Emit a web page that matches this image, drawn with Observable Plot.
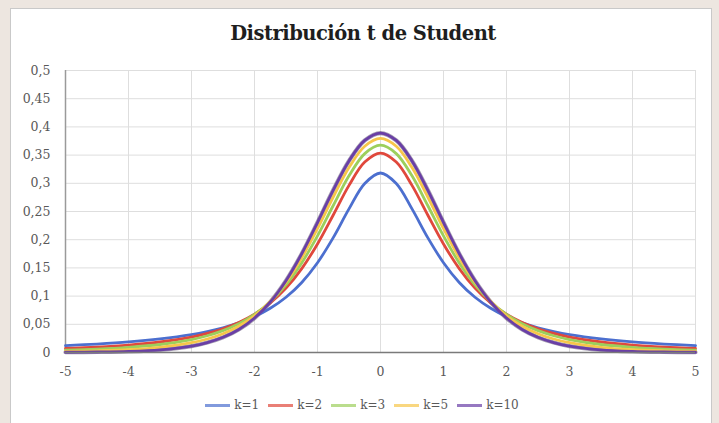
<!DOCTYPE html>
<html>
<head>
<meta charset="utf-8">
<script src="https://cdn.jsdelivr.net/npm/d3@7"></script>
<script src="https://cdn.jsdelivr.net/npm/@observablehq/plot@0.6"></script>
<style>
  html, body { margin: 0; padding: 0; }
  body { width: 719px; height: 423px; background: #ede6e0; position: relative; overflow: hidden; font-family: "DejaVu Serif", serif; }
  #panel { position: absolute; left: 10px; top: 8px; width: 702px; height: 430px; background: #ffffff; border: 1px solid #c9c9c9; box-sizing: border-box; }
  #title { position: absolute; left: 0; width: 726px; top: 24px; line-height: 20px; text-align: center; font-weight: bold; font-size: 19.5px; color: #1e1e1e; letter-spacing: -0.5px; }
  #chart { position: absolute; left: 0; top: 0; }
  #legend { position: absolute; left: 0; width: 724px; top: 397px; height: 16px; display: flex; justify-content: center; align-items: center; gap: 9px; font-size: 12px; color: #595959; }
  .item { display: flex; align-items: center; gap: 4px; }
  .sw { width: 25px; height: 3px; opacity: 0.7; }
</style>
</head>
<body>
<div id="panel"></div>
<div id="title">Distribución t de Student</div>
<div id="chart"></div>
<div id="legend"></div>
<script>
const xs  = [-5,-4.5,-4,-3.5,-3,-2.75,-2.5,-2.25,-2,-1.75,-1.5,-1.25,-1,-0.75,-0.5,-0.25,0,0.25,0.5,0.75,1,1.25,1.5,1.75,2,2.25,2.5,2.75,3,3.5,4,4.5,5];
const k1  = [0.0122,0.0150,0.0187,0.0241,0.0318,0.0372,0.0439,0.0525,0.0637,0.0784,0.0979,0.1242,0.1592,0.2037,0.2546,0.2996,0.3183,0.2996,0.2546,0.2037,0.1592,0.1242,0.0979,0.0784,0.0637,0.0525,0.0439,0.0372,0.0318,0.0241,0.0187,0.0150,0.0122];
const k2  = [0.0071,0.0095,0.0131,0.0186,0.0274,0.0338,0.0422,0.0533,0.0680,0.0878,0.1141,0.1487,0.1925,0.2438,0.2963,0.3376,0.3536,0.3376,0.2963,0.2438,0.1925,0.1487,0.1141,0.0878,0.0680,0.0533,0.0422,0.0338,0.0274,0.0186,0.0131,0.0095,0.0071];
const k3  = [0.0042,0.0061,0.0092,0.0142,0.0230,0.0297,0.0387,0.0509,0.0675,0.0900,0.1200,0.1589,0.2067,0.2606,0.3132,0.3527,0.3676,0.3527,0.3132,0.2606,0.2067,0.1589,0.1200,0.0900,0.0675,0.0509,0.0387,0.0297,0.0230,0.0142,0.0092,0.0061,0.0042];
const k5  = [0.0018,0.0030,0.0051,0.0092,0.0173,0.0239,0.0333,0.0466,0.0651,0.0905,0.1245,0.1679,0.2197,0.2757,0.3279,0.3657,0.3796,0.3657,0.3279,0.2757,0.2197,0.1679,0.1245,0.0905,0.0651,0.0466,0.0333,0.0239,0.0173,0.0092,0.0051,0.0030,0.0018];
const k10 = [0.0004,0.0009,0.0020,0.0048,0.0114,0.0176,0.0269,0.0409,0.0611,0.0895,0.1274,0.1751,0.2304,0.2880,0.3397,0.3760,0.3891,0.3760,0.3397,0.2880,0.2304,0.1751,0.1274,0.0895,0.0611,0.0409,0.0269,0.0176,0.0114,0.0048,0.0020,0.0009,0.0004];
const seriesNames = ["k=1","k=2","k=3","k=5","k=10"];
const seriesValues = [k1,k2,k3,k5,k10];
const seriesColors = ["#4c6fcf","#e0483c","#9ccf5c","#f7c64a","#6a3fa6"];
const xTicks = [-5,-4,-3,-2,-1,0,1,2,3,4,5];
const xTickLabels = ["-5","-4","-3","-2","-1","0","1","2","3","4","5"];
const yTicks = [0,0.05,0.1,0.15,0.2,0.25,0.3,0.35,0.4,0.45,0.5];
const yTickLabels = ["0","0,05","0,1","0,15","0,2","0,25","0,3","0,35","0,4","0,45","0,5"];

const table = seriesNames.flatMap((name, s) => xs.map((x, i) => ({x, y: seriesValues[s][i], k: name})));

const chart = Plot.plot({
  width: 719,
  height: 423,
  marginLeft: 65,
  marginRight: 24,
  marginTop: 70,
  marginBottom: 71,
  style: {fontFamily: "DejaVu Serif", fontSize: "12.5px", color: "#595959", background: "transparent"},
  x: {domain: [-5, 5], label: null},
  y: {domain: [0, 0.5], label: null},
  color: {domain: seriesNames, range: seriesColors},
  marks: [
    Plot.ruleY(yTicks.slice(1), {stroke: "#dedede", strokeWidth: 1}),
    Plot.ruleX(xTicks.slice(1), {stroke: "#dedede", strokeWidth: 1}),
    Plot.axisY({ticks: yTicks, tickFormat: (d, i) => yTickLabels[i], tickSize: 0, tickPadding: 15, fill: "#595959", label: null}),
    Plot.axisX({ticks: xTicks, tickFormat: (d, i) => xTickLabels[i], tickSize: 0, tickPadding: 15, fill: "#595959", label: null}),
    Plot.ruleX([-5], {stroke: "#9a9a9a", strokeWidth: 1.5}),
    Plot.line(table.filter(d => d.k === "k=10"), {x: "x", y: "y", stroke: "#3a2a55", strokeWidth: 4.2, curve: "catmull-rom", strokeOpacity: 0.45}),
    Plot.line(table, {x: "x", y: "y", z: "k", stroke: "k", strokeWidth: 2.8, curve: "catmull-rom"}),
    Plot.ruleY([0], {stroke: "#7a7a7a", strokeWidth: 1.5})
  ]
});
document.getElementById("chart").appendChild(chart);

const legend = document.getElementById("legend");
seriesNames.forEach((name, i) => {
  const item = document.createElement("div");
  item.className = "item";
  const sw = document.createElement("div");
  sw.className = "sw";
  sw.style.background = seriesColors[i];
  const lab = document.createElement("span");
  lab.textContent = name;
  item.appendChild(sw);
  item.appendChild(lab);
  legend.appendChild(item);
});
</script>
</body>
</html>
